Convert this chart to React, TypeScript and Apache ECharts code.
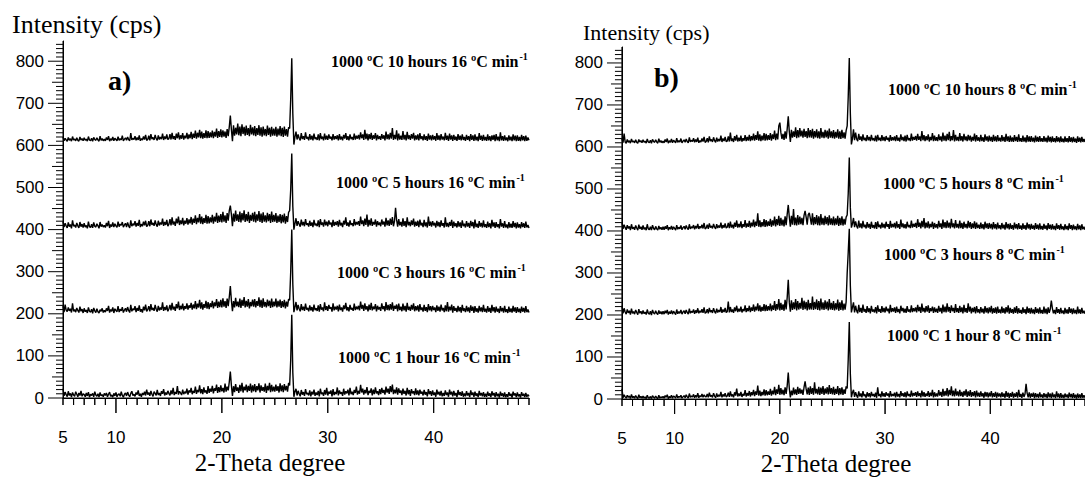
import React, { useEffect, useRef } from "react";
import * as echarts from "echarts";

// 2-theta scan grid: 5.0 .. 49.0 step 0.1 (441 points)
const X_START = 5;
const X_STEP = 0.1;

// Stacking offsets of the four traces (1 h, 3 h, 5 h, 10 h)
const offsets = [0, 200, 400, 600];

const xLabelValues = [5, 10, 20, 30, 40];
const yLabelValues = [0, 100, 200, 300, 400, 500, 600, 700, 800];

// ---------- panel a) 16 °C/min ----------
const left1h = [
  22, 5, 14, 8, 3, 16, 6, 11, 2, 13, 7, 4, 15, 9, 3, 12, 6, 17, 4, 10,
  8, 3, 12, 5, 14, 2, 9, 6, 11, 3, 15, 7, 4, 10, 2, 13, 5, 8, 3, 11,
  6, 12, 3, 9, 14, 4, 7, 2, 11, 5, 13, 3, 8, 10, 4, 15, 6, 2, 9, 12,
  5, 14, 7, 3, 11, 16, 6, 9, 4, 13, 8, 18, 5, 10, 3, 12, 7, 15, 6, 20,
  8, 13, 5, 17, 9, 4, 15, 11, 6, 19, 7, 12, 5, 16, 10, 21, 6, 13, 8, 17,
  11, 6, 18, 9, 24, 7, 14, 10, 28, 8, 16, 12, 7, 20, 9, 15, 11, 22, 8, 18,
  13, 24, 9, 17, 12, 27, 10, 19, 14, 30, 11, 21, 9, 25, 13, 18, 10, 28, 12, 22,
  15, 29, 11, 23, 17, 32, 12, 26, 14, 30, 16, 24, 13, 34, 15, 27, 18, 38, 63, 30,
  5, 28, 14, 33, 17, 25, 12, 31, 16, 36, 13, 27, 18, 32, 14, 29, 17, 34, 13, 30,
  16, 33, 14, 28, 18, 35, 13, 30, 17, 26, 15, 34, 12, 29, 18, 36, 14, 31, 16, 27,
  15, 32, 17, 28, 13, 35, 16, 30, 14, 33, 18, 29, 15, 36, 30, 90, 198, 60, 3, 15,
  22, 6, 17, 10, 4, 19, 8, 14, 5, 21, 9, 12, 6, 18, 4, 15, 8, 20, 5, 13,
  7, 17, 4, 22, 9, 13, 5, 19, 8, 24, 6, 15, 10, 18, 4, 21, 7, 14, 9, 25,
  6, 18, 10, 14, 5, 22, 8, 16, 11, 20, 6, 24, 9, 15, 7, 19, 12, 27, 8, 17,
  10, 31, 13, 22, 8, 19, 11, 26, 7, 17, 12, 23, 6, 20, 9, 25, 11, 16, 7, 21,
  9, 24, 12, 19, 8, 27, 13, 22, 10, 28, 14, 32, 9, 20, 11, 25, 8, 23, 12, 18,
  7, 22, 10, 17, 6, 24, 9, 19, 5, 21, 11, 16, 7, 23, 8, 18, 6, 20, 10, 15,
  6, 19, 8, 14, 4, 21, 9, 16, 5, 18, 7, 13, 3, 20, 8, 15, 6, 17, 4, 12,
  5, 18, 7, 13, 3, 20, 8, 15, 4, 17, 6, 12, 2, 19, 7, 14, 5, 16, 3, 11,
  4, 16, 6, 12, 2, 18, 7, 13, 3, 15, 5, 11, 2, 17, 6, 12, 4, 14, 3, 10,
  3, 15, 5, 11, 2, 16, 6, 12, 2, 14, 4, 10, 1, 15, 5, 11, 3, 13, 2, 9,
  3, 14, 5, 10, 1, 15, 6, 11, 2, 13, 4, 9, 1, 14, 5, 10, 2, 12, 3, 8,
  4,
];

const left3h = [
  18, 4, 22, 9, 5, 15, 7, 12, 3, 25, 6, 10, 4, 14, 8, 3, 17, 6, 11, 2,
  13, 5, 9, 2, 15, 6, 4, 11, 1, 14, 7, 3, 12, 5, 2, 10, 6, 13, 3, 8,
  4, 13, 7, 19, 3, 10, 6, 15, 2, 12, 8, 5, 18, 4, 11, 7, 16, 3, 9, 13,
  5, 16, 8, 3, 21, 6, 12, 9, 18, 4, 14, 7, 20, 5, 11, 3, 17, 8, 22, 6,
  10, 18, 6, 23, 9, 14, 7, 21, 11, 5, 19, 8, 15, 10, 27, 7, 16, 9, 20, 6,
  12, 21, 8, 26, 10, 17, 7, 23, 13, 29, 9, 19, 11, 24, 8, 18, 12, 25, 10, 20,
  14, 26, 10, 22, 13, 30, 11, 24, 15, 33, 12, 27, 10, 23, 14, 31, 12, 28, 11, 25,
  16, 31, 13, 27, 18, 35, 14, 29, 16, 33, 15, 37, 17, 30, 14, 36, 18, 40, 66, 32,
  6, 30, 15, 38, 18, 29, 16, 36, 14, 33, 19, 40, 15, 31, 17, 35, 13, 28, 18, 34,
  17, 35, 15, 30, 19, 39, 16, 33, 14, 37, 17, 28, 15, 34, 18, 31, 14, 36, 16, 29,
  18, 36, 15, 31, 17, 34, 14, 30, 16, 33, 13, 29, 17, 35, 32, 100, 200, 70, 4, 16,
  28, 8, 21, 12, 6, 23, 9, 17, 7, 24, 10, 14, 6, 20, 8, 16, 5, 22, 9, 13,
  7, 20, 5, 23, 10, 15, 6, 27, 9, 18, 7, 21, 12, 16, 5, 25, 8, 17, 10, 19,
  6, 22, 9, 15, 5, 20, 11, 26, 8, 16, 6, 21, 10, 14, 7, 24, 9, 17, 11, 19,
  8, 29, 12, 21, 7, 25, 10, 18, 6, 22, 9, 26, 8, 17, 11, 23, 6, 19, 10, 16,
  7, 25, 11, 18, 6, 28, 9, 21, 8, 23, 10, 27, 7, 19, 12, 22, 6, 24, 9, 17,
  6, 24, 8, 19, 5, 26, 9, 17, 7, 21, 10, 25, 6, 18, 8, 20, 5, 23, 9, 15,
  5, 21, 7, 16, 4, 23, 8, 18, 6, 19, 9, 15, 4, 20, 7, 17, 5, 22, 8, 14,
  4, 20, 6, 28, 5, 17, 8, 22, 3, 18, 7, 14, 4, 19, 6, 16, 3, 21, 7, 13,
  4, 19, 6, 15, 3, 20, 7, 17, 2, 18, 5, 13, 3, 19, 6, 15, 4, 21, 5, 12,
  3, 18, 5, 14, 2, 21, 6, 16, 3, 17, 5, 12, 2, 18, 6, 14, 3, 19, 4, 11,
  2, 17, 4, 13, 3, 19, 5, 15, 2, 16, 4, 12, 2, 17, 5, 14, 3, 18, 4, 10,
  3,
];

const left5h = [
  19, 6, 15, 9, 4, 17, 7, 12, 3, 22, 8, 11, 5, 16, 9, 4, 18, 7, 13, 5,
  15, 6, 10, 3, 19, 7, 5, 13, 4, 17, 8, 6, 14, 9, 3, 18, 7, 12, 6, 10,
  5, 16, 8, 21, 4, 12, 7, 17, 6, 14, 9, 5, 19, 7, 13, 10, 18, 6, 11, 15,
  6, 17, 9, 4, 22, 8, 14, 10, 20, 7, 16, 9, 23, 6, 13, 8, 19, 10, 21, 7,
  10, 20, 8, 24, 11, 16, 9, 22, 12, 7, 21, 10, 17, 12, 26, 9, 18, 11, 23, 8,
  13, 25, 10, 29, 12, 19, 9, 26, 15, 31, 11, 22, 13, 28, 10, 21, 14, 27, 12, 24,
  15, 30, 12, 26, 16, 34, 13, 28, 17, 37, 14, 31, 13, 27, 16, 35, 14, 32, 15, 29,
  17, 35, 14, 31, 19, 40, 16, 33, 18, 37, 17, 42, 19, 34, 16, 39, 21, 45, 57, 36,
  8, 38, 19, 45, 21, 36, 18, 43, 17, 39, 22, 46, 18, 37, 20, 42, 16, 35, 21, 40,
  19, 42, 17, 36, 21, 44, 18, 38, 16, 41, 19, 34, 17, 40, 20, 37, 16, 43, 18, 35,
  19, 39, 16, 33, 18, 37, 15, 35, 17, 38, 14, 32, 18, 41, 45, 95, 181, 55, 0, 14,
  27, 9, 20, 13, 7, 24, 10, 18, 8, 25, 11, 15, 7, 21, 9, 17, 6, 23, 10, 14,
  8, 22, 6, 25, 11, 17, 7, 24, 10, 19, 8, 22, 12, 17, 6, 23, 9, 18, 11, 20,
  7, 23, 10, 16, 6, 21, 12, 29, 9, 17, 7, 22, 11, 15, 8, 25, 10, 18, 12, 20,
  9, 31, 13, 22, 8, 26, 11, 36, 7, 23, 10, 27, 9, 18, 12, 24, 7, 20, 11, 17,
  8, 24, 12, 19, 7, 28, 10, 22, 9, 26, 11, 30, 8, 20, 52, 23, 7, 25, 10, 18,
  7, 27, 9, 20, 6, 29, 10, 18, 8, 22, 11, 26, 7, 19, 9, 21, 6, 24, 10, 16,
  6, 23, 8, 17, 5, 31, 9, 19, 7, 20, 10, 16, 5, 21, 8, 18, 6, 22, 9, 15,
  5, 29, 7, 16, 6, 18, 9, 23, 4, 19, 8, 15, 5, 20, 7, 17, 4, 22, 8, 14,
  5, 20, 7, 16, 4, 21, 8, 18, 3, 24, 6, 14, 4, 20, 7, 16, 5, 22, 6, 13,
  4, 19, 6, 15, 3, 23, 7, 17, 4, 18, 6, 13, 3, 25, 7, 15, 4, 20, 5, 12,
  3, 18, 5, 14, 4, 20, 6, 16, 3, 17, 5, 13, 3, 18, 6, 15, 4, 19, 5, 11,
  4,
];

const left10h = [
  20, 11, 17, 13, 10, 19, 12, 16, 10, 21, 13, 15, 11, 18, 12, 10, 20, 13, 16, 11,
  18, 12, 15, 10, 21, 13, 11, 17, 10, 19, 14, 12, 18, 13, 10, 22, 12, 16, 11, 15,
  11, 19, 13, 22, 10, 16, 12, 20, 11, 17, 14, 11, 21, 12, 16, 13, 23, 11, 15, 18,
  12, 20, 14, 11, 29, 13, 17, 14, 22, 12, 19, 13, 24, 11, 16, 13, 21, 14, 25, 12,
  14, 23, 12, 27, 15, 19, 13, 25, 16, 12, 24, 14, 20, 15, 28, 13, 21, 15, 26, 14,
  16, 27, 14, 30, 15, 22, 13, 28, 17, 31, 14, 24, 16, 29, 14, 23, 17, 30, 15, 26,
  17, 32, 15, 28, 18, 35, 16, 30, 19, 37, 17, 33, 16, 29, 18, 36, 17, 34, 18, 31,
  19, 35, 17, 32, 21, 40, 18, 34, 20, 38, 19, 36, 21, 33, 18, 39, 22, 44, 71, 38,
  10, 48, 23, 42, 26, 52, 24, 45, 22, 50, 27, 44, 23, 47, 25, 41, 22, 49, 26, 43,
  24, 46, 22, 41, 25, 48, 23, 43, 21, 45, 24, 39, 22, 47, 25, 42, 21, 44, 23, 40,
  23, 44, 21, 40, 24, 46, 22, 42, 20, 45, 23, 39, 21, 43, 40, 110, 207, 75, 2, 20,
  33, 14, 26, 17, 12, 29, 15, 22, 13, 31, 16, 20, 12, 27, 14, 23, 12, 28, 15, 19,
  13, 26, 12, 29, 15, 21, 12, 28, 14, 23, 13, 26, 16, 21, 12, 27, 14, 22, 15, 24,
  12, 27, 14, 21, 12, 25, 16, 29, 13, 22, 12, 26, 15, 20, 13, 28, 14, 23, 16, 25,
  14, 31, 17, 26, 13, 37, 15, 28, 12, 27, 15, 30, 13, 24, 16, 29, 12, 25, 15, 22,
  13, 27, 16, 24, 12, 33, 15, 26, 14, 30, 16, 41, 13, 25, 15, 36, 12, 28, 14, 23,
  13, 34, 14, 25, 12, 32, 15, 24, 13, 27, 16, 30, 12, 24, 14, 26, 12, 29, 15, 22,
  12, 26, 13, 22, 11, 28, 14, 24, 12, 25, 14, 22, 11, 29, 13, 24, 12, 27, 14, 21,
  12, 30, 13, 23, 11, 28, 14, 24, 11, 25, 13, 21, 11, 27, 13, 23, 12, 26, 13, 20,
  11, 25, 13, 22, 10, 27, 13, 24, 11, 26, 12, 21, 10, 29, 13, 23, 11, 25, 12, 20,
  11, 26, 12, 22, 10, 24, 13, 25, 10, 27, 12, 21, 10, 31, 12, 22, 11, 24, 12, 19,
  10, 24, 12, 21, 10, 26, 12, 23, 10, 24, 11, 20, 10, 25, 12, 22, 10, 23, 11, 19,
  12,
];

// ---------- panel b) 8 °C/min ----------
const right1h = [
  24, 3, 10, 5, 2, 9, 4, 7, 1, 11, 3, 6, 2, 8, 4, 1, 10, 3, 6, 2,
  7, 2, 5, 1, 9, 3, 2, 6, 1, 8, 4, 2, 7, 3, 1, 9, 2, 5, 3, 6,
  2, 8, 4, 10, 1, 6, 3, 9, 2, 7, 5, 2, 11, 3, 6, 4, 9, 2, 5, 8,
  3, 10, 5, 2, 13, 4, 7, 5, 11, 3, 9, 4, 14, 3, 8, 5, 12, 4, 10, 6,
  5, 12, 4, 15, 6, 9, 4, 14, 7, 3, 13, 5, 10, 6, 17, 4, 11, 6, 14, 5,
  7, 15, 5, 18, 6, 11, 4, 16, 8, 25, 6, 13, 7, 17, 5, 12, 8, 21, 6, 14,
  8, 19, 6, 16, 9, 22, 7, 18, 10, 32, 8, 20, 7, 17, 9, 23, 8, 21, 9, 18,
  10, 24, 8, 20, 11, 29, 9, 23, 12, 34, 10, 26, 11, 22, 9, 28, 12, 32, 63, 25,
  4, 20, 9, 27, 11, 23, 10, 29, 12, 25, 13, 22, 10, 28, 42, 24, 11, 27, 10, 30,
  12, 26, 10, 40, 13, 24, 11, 29, 10, 27, 12, 31, 10, 25, 13, 28, 11, 33, 12, 26,
  11, 29, 10, 24, 12, 31, 9, 26, 11, 28, 10, 23, 12, 30, 25, 95, 183, 60, 4, 15,
  22, 5, 16, 8, 3, 18, 6, 13, 4, 19, 7, 11, 3, 16, 6, 14, 4, 17, 7, 12,
  5, 15, 3, 28, 7, 12, 4, 18, 6, 14, 5, 16, 8, 13, 4, 19, 6, 12, 7, 15,
  4, 17, 6, 12, 4, 19, 7, 14, 5, 16, 4, 18, 7, 12, 5, 20, 6, 14, 8, 16,
  5, 18, 7, 14, 4, 20, 6, 16, 5, 13, 7, 19, 5, 15, 7, 22, 4, 16, 6, 13,
  6, 21, 8, 17, 5, 24, 7, 19, 8, 26, 6, 22, 9, 30, 7, 20, 6, 25, 8, 18,
  6, 22, 7, 17, 5, 19, 8, 23, 5, 18, 7, 21, 5, 16, 7, 19, 4, 20, 6, 15,
  5, 18, 6, 14, 3, 17, 6, 16, 4, 15, 6, 19, 4, 14, 5, 17, 3, 15, 6, 13,
  4, 16, 5, 13, 3, 19, 5, 15, 3, 14, 5, 17, 3, 13, 5, 16, 3, 22, 5, 12,
  3, 15, 5, 12, 36, 14, 4, 16, 3, 13, 5, 15, 2, 14, 4, 12, 3, 16, 4, 11,
  3, 14, 4, 12, 2, 16, 4, 13, 2, 15, 4, 11, 2, 18, 4, 13, 2, 14, 3, 10,
  2, 13, 4, 11, 2, 15, 4, 12, 2, 14, 3, 10, 1, 13, 3, 11, 2, 14, 3, 9,
  3,
];

const right3h = [
  22, 4, 16, 7, 2, 13, 5, 10, 1, 15, 4, 8, 2, 12, 6, 1, 14, 4, 9, 2,
  11, 3, 7, 1, 13, 4, 2, 9, 0, 12, 5, 2, 10, 4, 1, 11, 3, 8, 2, 9,
  2, 10, 4, 12, 1, 8, 3, 11, 2, 9, 5, 1, 13, 3, 8, 4, 12, 2, 7, 10,
  3, 12, 6, 2, 15, 4, 9, 6, 13, 3, 11, 5, 16, 4, 10, 6, 14, 5, 18, 4,
  6, 14, 4, 17, 7, 11, 5, 16, 8, 4, 15, 6, 12, 7, 19, 5, 13, 7, 17, 6,
  8, 32, 6, 19, 7, 13, 5, 18, 9, 22, 7, 15, 8, 20, 6, 14, 9, 23, 7, 16,
  9, 22, 7, 18, 10, 25, 8, 20, 11, 28, 9, 23, 8, 19, 10, 26, 9, 24, 10, 21,
  11, 27, 9, 23, 12, 33, 10, 26, 13, 38, 11, 29, 12, 25, 10, 36, 13, 42, 84, 30,
  8, 35, 12, 30, 14, 38, 11, 33, 13, 29, 15, 41, 12, 34, 14, 31, 11, 36, 13, 28,
  13, 44, 12, 31, 14, 37, 12, 33, 11, 39, 13, 30, 12, 35, 14, 32, 11, 38, 13, 29,
  12, 33, 11, 28, 13, 37, 10, 30, 12, 35, 11, 27, 13, 31, 100, 150, 205, 70, 6, 18,
  30, 6, 22, 10, 4, 24, 7, 17, 5, 25, 8, 14, 5, 21, 7, 16, 4, 22, 8, 13,
  6, 19, 4, 23, 8, 14, 5, 21, 7, 17, 6, 20, 9, 15, 4, 24, 7, 16, 8, 18,
  5, 20, 7, 14, 4, 22, 9, 17, 6, 15, 5, 21, 8, 13, 6, 23, 7, 16, 9, 18,
  6, 24, 9, 19, 5, 27, 8, 17, 6, 21, 8, 23, 5, 16, 9, 20, 5, 18, 7, 15,
  5, 22, 8, 17, 4, 25, 7, 20, 6, 28, 8, 19, 5, 23, 9, 17, 5, 26, 7, 16,
  5, 22, 7, 18, 4, 24, 7, 16, 5, 28, 8, 20, 4, 17, 7, 19, 4, 21, 6, 14,
  4, 19, 6, 15, 3, 21, 6, 17, 4, 18, 6, 22, 3, 16, 5, 18, 3, 20, 5, 13,
  4, 20, 5, 16, 3, 19, 6, 23, 3, 17, 5, 14, 3, 18, 5, 21, 3, 16, 5, 12,
  3, 18, 5, 14, 2, 20, 5, 16, 3, 17, 4, 13, 2, 19, 5, 15, 3, 18, 4, 12,
  3, 20, 4, 15, 2, 18, 5, 14, 34, 16, 4, 12, 2, 19, 5, 14, 3, 17, 4, 11,
  2, 17, 4, 13, 3, 19, 5, 15, 2, 16, 4, 12, 2, 20, 4, 13, 3, 17, 4, 10,
  3,
];

const right5h = [
  21, 5, 15, 8, 3, 14, 6, 11, 2, 16, 5, 9, 3, 13, 7, 2, 15, 5, 10, 3,
  13, 4, 8, 2, 16, 5, 3, 10, 2, 14, 6, 3, 11, 5, 2, 12, 4, 9, 3, 10,
  3, 11, 5, 14, 2, 9, 4, 12, 3, 10, 6, 2, 14, 4, 9, 5, 13, 3, 8, 11,
  4, 13, 7, 3, 16, 5, 10, 7, 14, 4, 12, 6, 17, 5, 11, 7, 15, 6, 19, 5,
  7, 15, 5, 18, 8, 12, 6, 17, 9, 5, 16, 7, 13, 8, 20, 6, 14, 8, 18, 7,
  9, 19, 7, 22, 8, 15, 6, 20, 10, 25, 8, 17, 9, 23, 7, 16, 10, 26, 8, 18,
  10, 24, 8, 20, 11, 27, 9, 22, 12, 42, 10, 25, 9, 21, 11, 28, 10, 26, 11, 23,
  12, 29, 10, 25, 13, 34, 11, 28, 14, 36, 12, 31, 13, 27, 11, 35, 14, 40, 62, 33,
  10, 36, 15, 52, 14, 32, 13, 38, 15, 34, 16, 31, 14, 37, 48, 33, 15, 39, 43, 30,
  15, 42, 14, 33, 16, 38, 14, 35, 13, 40, 15, 31, 14, 36, 16, 33, 13, 37, 15, 30,
  14, 34, 13, 30, 15, 36, 12, 31, 14, 35, 13, 29, 15, 33, 38, 90, 175, 55, 8, 17,
  31, 9, 23, 12, 6, 25, 8, 18, 6, 24, 9, 15, 6, 21, 8, 17, 5, 22, 8, 14,
  6, 21, 5, 23, 9, 15, 6, 20, 8, 17, 6, 22, 10, 16, 5, 24, 8, 17, 9, 19,
  6, 23, 8, 16, 5, 27, 9, 18, 7, 16, 6, 22, 9, 14, 7, 25, 8, 17, 10, 19,
  7, 28, 10, 20, 6, 24, 9, 31, 6, 20, 8, 23, 6, 17, 9, 22, 5, 19, 8, 16,
  6, 24, 9, 18, 5, 27, 8, 21, 7, 25, 8, 20, 6, 29, 9, 18, 6, 26, 8, 17,
  6, 25, 7, 19, 5, 22, 8, 17, 6, 24, 8, 21, 5, 18, 7, 23, 5, 20, 7, 15,
  5, 20, 6, 16, 4, 22, 7, 18, 5, 19, 6, 17, 4, 21, 6, 16, 4, 20, 6, 14,
  4, 19, 6, 15, 3, 21, 6, 17, 4, 18, 5, 14, 3, 20, 6, 16, 4, 19, 5, 13,
  3, 18, 5, 14, 3, 20, 6, 16, 3, 17, 5, 13, 3, 19, 5, 15, 3, 18, 4, 12,
  3, 17, 5, 13, 2, 19, 5, 15, 3, 16, 4, 12, 2, 18, 5, 14, 3, 17, 4, 11,
  2, 16, 4, 12, 2, 18, 5, 14, 2, 15, 4, 11, 2, 17, 4, 13, 2, 16, 4, 10,
  3,
];

const right10h = [
  20, 10, 32, 12, 9, 18, 11, 15, 9, 19, 12, 14, 10, 17, 11, 9, 18, 12, 15, 10,
  17, 11, 14, 9, 19, 12, 10, 16, 9, 18, 13, 11, 17, 12, 9, 20, 11, 15, 10, 14,
  10, 18, 12, 20, 9, 15, 11, 19, 10, 16, 13, 10, 21, 11, 15, 12, 20, 10, 14, 17,
  11, 19, 13, 10, 23, 12, 16, 13, 21, 11, 18, 12, 22, 10, 15, 12, 20, 13, 24, 11,
  13, 21, 11, 25, 14, 18, 12, 23, 15, 11, 22, 13, 19, 14, 27, 12, 20, 14, 24, 13,
  14, 25, 13, 34, 14, 20, 12, 26, 15, 29, 13, 22, 14, 27, 13, 21, 15, 28, 14, 24,
  15, 29, 14, 26, 16, 32, 15, 28, 17, 37, 15, 30, 14, 27, 16, 33, 15, 31, 16, 28,
  17, 33, 15, 30, 19, 39, 16, 32, 18, 50, 58, 34, 19, 31, 17, 37, 20, 43, 73, 36,
  12, 41, 22, 37, 24, 47, 21, 40, 23, 45, 25, 39, 22, 43, 24, 38, 21, 45, 23, 40,
  22, 43, 20, 38, 23, 42, 21, 37, 20, 45, 22, 36, 21, 41, 23, 39, 20, 44, 22, 37,
  21, 40, 20, 36, 22, 42, 20, 37, 19, 41, 21, 35, 20, 39, 50, 120, 212, 80, 6, 20,
  42, 16, 34, 19, 14, 31, 17, 25, 14, 30, 16, 22, 14, 28, 16, 24, 14, 29, 16, 21,
  14, 27, 13, 29, 16, 22, 14, 28, 15, 24, 14, 26, 17, 22, 13, 28, 15, 23, 16, 25,
  14, 28, 15, 22, 13, 30, 16, 24, 14, 27, 13, 29, 16, 21, 14, 32, 15, 24, 17, 26,
  15, 31, 17, 25, 14, 38, 16, 28, 14, 26, 16, 30, 13, 24, 16, 33, 14, 27, 15, 23,
  14, 30, 16, 25, 13, 34, 15, 27, 14, 31, 16, 36, 14, 26, 16, 40, 13, 29, 15, 24,
  14, 33, 15, 26, 13, 31, 16, 25, 14, 29, 16, 27, 13, 24, 15, 32, 13, 28, 15, 23,
  13, 29, 14, 23, 12, 30, 15, 25, 13, 27, 14, 24, 12, 29, 14, 25, 13, 28, 14, 22,
  13, 28, 14, 24, 12, 31, 14, 25, 12, 27, 13, 23, 12, 28, 14, 24, 12, 30, 13, 21,
  12, 27, 13, 23, 11, 28, 13, 25, 12, 26, 13, 22, 11, 27, 13, 24, 12, 26, 13, 21,
  12, 26, 13, 22, 11, 27, 13, 24, 11, 25, 12, 21, 11, 26, 13, 23, 11, 25, 12, 20,
  11, 25, 12, 21, 11, 26, 12, 23, 11, 24, 12, 20, 10, 25, 12, 22, 11, 24, 12, 19,
  12,
];

const leftSeries = [left1h, left3h, left5h, left10h];
const rightSeries = [right1h, right3h, right5h, right10h];

const leftLabels = [
  "1000 ºC 1 hour 16 ºC min",
  "1000 ºC 3 hours 16 ºC min",
  "1000 ºC 5 hours 16 ºC min",
  "1000 ºC 10 hours 16 ºC min",
];
const rightLabels = [
  "1000 ºC 1 hour 8 ºC min",
  "1000 ºC 3 hours 8 ºC min",
  "1000 ºC 5 hours 8 ºC min",
  "1000 ºC 10 hours 8 ºC min",
];

const SERIF = '"Liberation Serif", "Times New Roman", serif';
const SANS = '"Liberation Sans", Arial, sans-serif';

export default function App() {
  const ref = useRef<HTMLDivElement>(null);

  useEffect(() => {
    if (!ref.current) return;
    const chart = echarts.init(ref.current, undefined, { renderer: "svg" });

    const X_MIN = 5;
    const X_MAX = 49;
    const EXT = 16; // px of room left of the y axis for its ticks
    const black = { color: "#000", width: 1 };

    const panels = [
      { left: 63, top: 41, width: 466, height: 357, yMax: 848 },
      { left: 622, top: 47, width: 466, height: 352, yMax: 838 },
    ];
    const pxPerX = (p: any) => p.width / (X_MAX - X_MIN);

    const xAxis = (gridIndex: number) => ({
      type: "value",
      gridIndex,
      min: X_MIN,
      max: X_MAX,
      position: "bottom",
      axisLine: { show: true, onZero: false, lineStyle: black },
      axisTick: { show: false },
      axisLabel: {
        show: true,
        customValues: xLabelValues,
        margin: 31,
        fontSize: 17,
        fontFamily: SANS,
        color: "#000",
      },
      splitLine: { show: false },
    });

    const yAxis = (gridIndex: number, max: number) => ({
      type: "value",
      gridIndex,
      min: 0,
      max,
      position: "left",
      axisLine: { show: true, onZero: false, lineStyle: black },
      axisTick: { show: false },
      axisLabel: {
        show: true,
        customValues: yLabelValues,
        margin: 19,
        fontSize: 17,
        fontFamily: SANS,
        color: "#000",
      },
      splitLine: { show: false },
    });

    // overlay grids (2, 3) reaching EXT px further left, used for the y-axis ticks
    const extGrids = panels.map((p) => ({
      left: p.left - EXT,
      top: p.top,
      width: p.width + EXT,
      height: p.height,
    }));
    const extX = panels.map((p, k) => ({
      type: "value",
      gridIndex: 2 + k,
      show: false,
      min: X_MIN - EXT / pxPerX(p),
      max: X_MAX,
    }));
    const extY = panels.map((p, k) => ({
      type: "value",
      gridIndex: 2 + k,
      show: false,
      min: 0,
      max: p.yMax,
    }));

    const lineBase = (axisIndex: number, data: number[][], width: number) => ({
      type: "line",
      xAxisIndex: axisIndex,
      yAxisIndex: axisIndex,
      data,
      showSymbol: false,
      symbol: "none",
      silent: true,
      clip: false,
      animation: false,
      lineStyle: { color: "#000", width },
      z: 3,
    });

    const traceSeries = (vals: number[], off: number, axisIndex: number) =>
      lineBase(
        axisIndex,
        vals.map((v, i) => [+(X_START + i * X_STEP).toFixed(1), v + off]),
        1.4
      );

    // x-axis ticks: one comb line (x non-decreasing) through the axes' own scales
    const xTickSeries = (k: number) => {
      const p = panels[k];
      const pxY = p.height / p.yMax;
      const xComb: number[][] = [];
      for (let v = X_MIN; v <= X_MAX; v++) {
        const len = v % 10 === 0 ? 15 : 7;
        xComb.push([v, 0], [v, -len / pxY], [v, 0]);
      }
      return lineBase(k, xComb, 1);
    };

    // y-axis ticks: per tick, a left-to-right stroke to the axis, then up along the axis line
    const yTickSeries = (k: number) => {
      const p = panels[k];
      const pxX = pxPerX(p);
      const out: any[] = [];
      for (let v = 0; v <= p.yMax - 5; v += 10) {
        const len = v % 100 === 0 ? 15 : v % 50 === 0 ? 11 : 7;
        out.push(
          lineBase(
            2 + k,
            [
              [X_MIN - len / pxX, v],
              [X_MIN, v],
              [X_MIN, Math.min(v + 10, p.yMax)],
            ],
            1
          )
        );
      }
      return out;
    };

    const series = [
      ...leftSeries.map((s, k) => traceSeries(s, offsets[k], 0)),
      ...rightSeries.map((s, k) => traceSeries(s, offsets[k], 1)),
      xTickSeries(0),
      xTickSeries(1),
      ...yTickSeries(0),
      ...yTickSeries(1),
    ];

    const note = (text: string, x: number, y: number) => ({
      type: "text",
      x,
      y,
      silent: true,
      style: {
        text: `{m|${text}}{s|-1}`,
        align: "left",
        verticalAlign: "middle",
        fill: "#000",
        rich: {
          m: { fontSize: 16, fontWeight: "bold", fontFamily: SERIF, fill: "#000" },
          s: {
            fontSize: 10,
            fontWeight: "bold",
            fontFamily: SERIF,
            fill: "#000",
            padding: [0, 0, 9, 1],
          },
        },
      },
    });

    const plain = (
      text: string,
      x: number,
      y: number,
      size: number,
      weight: string,
      align: string
    ) => ({
      type: "text",
      x,
      y,
      silent: true,
      style: {
        text,
        align,
        verticalAlign: "middle",
        fill: "#000",
        fontSize: size,
        fontWeight: weight,
        fontFamily: SERIF,
      },
    });

    const leftNotePos = [
      [338, 357],
      [337, 272],
      [336, 182],
      [331, 61],
    ];
    const rightNotePos = [
      [887, 335],
      [884, 254],
      [883, 183],
      [888, 89],
    ];

    const graphic = [
      plain("Intensity (cps)", 12, 24, 26, "normal", "left"),
      plain("Intensity (cps)", 583, 32, 22, "normal", "left"),
      plain("2-Theta degree", 270, 462, 25, "normal", "center"),
      plain("2-Theta degree", 836, 463, 25, "normal", "center"),
      plain("a)", 108, 80, 28, "bold", "left"),
      plain("b)", 654, 77, 28, "bold", "left"),
      ...leftLabels.map((t, k) => note(t, leftNotePos[k][0], leftNotePos[k][1])),
      ...rightLabels.map((t, k) => note(t, rightNotePos[k][0], rightNotePos[k][1])),
    ];

    chart.setOption({
      animation: false,
      backgroundColor: "#fff",
      grid: [
        ...panels.map((p) => ({ left: p.left, top: p.top, width: p.width, height: p.height })),
        ...extGrids,
      ],
      xAxis: [xAxis(0), xAxis(1), ...extX],
      yAxis: [yAxis(0, panels[0].yMax), yAxis(1, panels[1].yMax), ...extY],
      series,
      graphic,
    });

    return () => {
      chart.dispose();
    };
  }, []);

  return (
    <div
      ref={ref}
      style={{ position: "absolute", left: 0, top: 0, width: 1085, height: 477 }}
    />
  );
}
